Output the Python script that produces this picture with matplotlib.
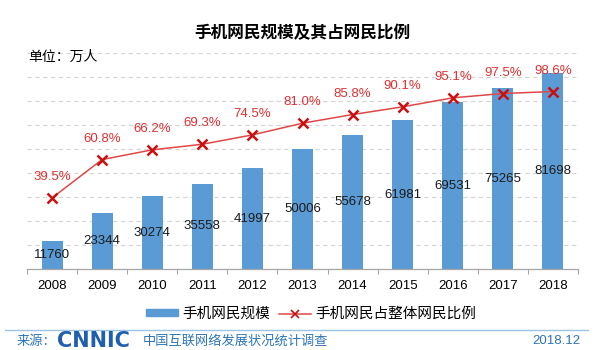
import numpy as np
import matplotlib.pyplot as plt
from matplotlib.patches import Rectangle
from matplotlib.lines import Line2D

plt.rcParams['font.family'] = ['Liberation Sans', 'Noto Sans CJK SC', 'DejaVu Sans']

# data
years = ['2008', '2009', '2010', '2011', '2012', '2013', '2014', '2015', '2016', '2017', '2018']
users = [11760, 23344, 30274, 35558, 41997, 50006, 55678, 61981, 69531, 75265, 81698]
share = [39.5, 60.8, 66.2, 69.3, 74.5, 81.0, 85.8, 90.1, 95.1, 97.5, 98.6]

bar_color = '#5b9bd5'
line_color = '#e04848'
mark_color = '#c81010'
foot_blue = '#2e75b6'
cjk = ['Noto Sans CJK SC', 'DejaVu Sans']

fig = plt.figure(figsize=(6, 3.5), dpi=100)
ax = fig.add_axes([27 / 600, 1 - 269 / 350, 551 / 600, 216 / 350])
x = np.arange(len(years))

# bars
ax.bar(x, users, width=0.42, color=bar_color, zorder=2)
for xi, v in zip(x, users):
    ax.text(xi, v / 2, str(v), ha='center', va='center', fontsize=9.5, color='#1a1a1a', zorder=3)

# share line on a hidden right axis
ax2 = ax.twinx()
ax2.set_ylim(0, 120)
ax2.plot(x, share, color=line_color, linewidth=1.1, zorder=3)
ax2.plot(x, share, linestyle='none', marker='x', markersize=7, markeredgewidth=1.8,
         color=mark_color, zorder=4)
for xi, p in zip(x, share):
    ax2.annotate(f'{p:.1f}%', (xi, p), xytext=(0, 15), textcoords='offset points',
                 ha='center', va='center', fontsize=9.5, color='#e03030')
ax2.axis('off')

ax.set_xlim(-0.5, len(years) - 0.5)
ax.set_ylim(0, 90000)
ax.set_yticks(np.arange(10000, 90001, 10000))
ax.yaxis.grid(True, color='#d4d4d4', linestyle=(0, (4, 3)), linewidth=0.8)
ax.set_axisbelow(True)
ax.tick_params(axis='y', which='both', left=False, right=False, labelleft=False, length=0)
ax.set_xticks(x)
ax.set_xticklabels(years, fontsize=9.5)
ax.set_xticks(np.arange(-0.5, len(years)), minor=True)
ax.tick_params(axis='x', which='major', length=0, pad=8)
ax.tick_params(axis='x', which='minor', length=3.5, color='#a6a6a6', width=0.8)
for s in ['top', 'right', 'left']:
    ax.spines[s].set_visible(False)
ax.spines['bottom'].set_color('#a6a6a6')
ax.spines['bottom'].set_linewidth(0.9)

# titles
fig.text(302 / 600, 1 - 33 / 350, '手机网民规模及其占网民比例', ha='center', va='center',
         fontsize=12, fontweight='bold', family=cjk)
fig.text(28 / 600, 1 - 57 / 350, '单位：万人', ha='left', va='center',
         fontsize=10, family=cjk)

# legend
handles = [Rectangle((0, 0), 1, 1, color=bar_color),
           Line2D([0], [0], color=line_color, linewidth=1.1, marker='x', markersize=6,
                  markeredgewidth=1.2, markeredgecolor=mark_color)]
fig.legend(handles, ['手机网民规模', '手机网民占整体网民比例'], loc='center',
           bbox_to_anchor=(311 / 600, 1 - 314 / 350), ncol=2, frameon=False,
           handlelength=2.2, handleheight=0.4, handletextpad=0.3, columnspacing=0.6,
           prop={'family': cjk, 'size': 10.5})

# footer
fig.add_artist(Line2D([5 / 600, 588 / 600], [1 - 330 / 350, 1 - 330 / 350],
                      color='#9dc3e6', linewidth=1, transform=fig.transFigure))
fig.text(17 / 600, 1 - 341 / 350, '来源：', ha='left', va='center', fontsize=9.5,
         color=foot_blue, family=cjk)
fig.text(57 / 600, 1 - 341 / 350, 'CNNIC', ha='left', va='center', fontsize=15,
         fontweight='heavy', color='#1f5fae', family=['DejaVu Sans'])
fig.text(143 / 600, 1 - 341 / 350, '中国互联网络发展状况统计调查', ha='left', va='center',
         fontsize=9.5, color=foot_blue, family=cjk)
fig.text(580 / 600, 1 - 341 / 350, '2018.12', ha='right', va='center', fontsize=9.5,
         color=foot_blue)

fig.savefig('out.png', dpi=100)
